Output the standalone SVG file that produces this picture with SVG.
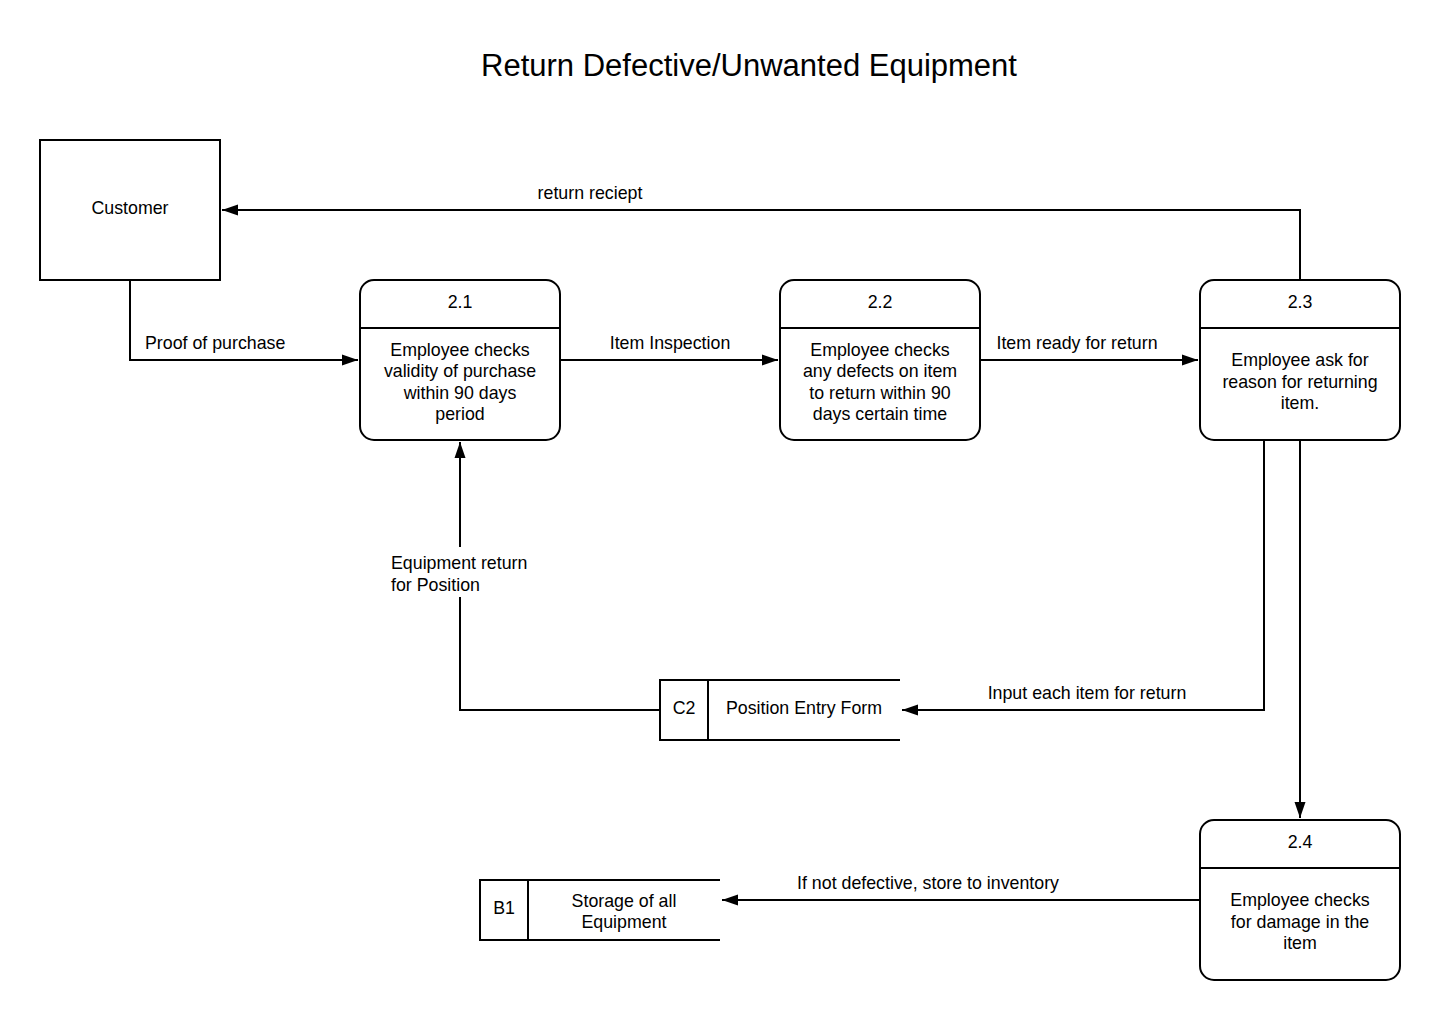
<svg xmlns="http://www.w3.org/2000/svg" width="1440" height="1020" viewBox="0 0 1440 1020">
<style>
text{font-family:"Liberation Sans",Arial,sans-serif;font-size:17.8px;fill:#000}
.t{text-anchor:middle}
.title{font-size:31px;text-anchor:middle}
.box{fill:#fff;stroke:#000;stroke-width:2}
.ln{fill:none;stroke:#000;stroke-width:2}
.c{fill:none;stroke:#000;stroke-width:2;marker-end:url(#ah)}
</style>
<defs>
<marker id="ah" markerUnits="userSpaceOnUse" markerWidth="18" markerHeight="14" refX="16" refY="7" orient="auto">
<path d="M0,1.5 L16,7 L0,12.5 z" fill="#000"/>
</marker>
</defs>
<rect width="1440" height="1020" fill="#fff"/>
<text class="title" x="749" y="76">Return Defective/Unwanted Equipment</text>

<g id="connectors">
<polyline class="c" points="130,280 130,360 358,360"/>
<text x="145" y="349">Proof of purchase</text>
<line class="c" x1="560" y1="360" x2="778" y2="360"/>
<text class="t" x="670" y="349">Item Inspection</text>
<line class="c" x1="980" y1="360" x2="1198" y2="360"/>
<text class="t" x="1077" y="349">Item ready for return</text>
<polyline class="c" points="1300,280 1300,210 222,210"/>
<text class="t" x="590" y="199">return reciept</text>
<polyline class="c" points="1264,440 1264,710 902,710"/>
<text class="t" x="1087" y="699">Input each item for return</text>
<line class="c" x1="1300" y1="440" x2="1300" y2="818"/>
<polyline class="c" points="660,710 460,710 460,442"/>
<rect x="388" y="547" width="146" height="50" fill="#fff"/>
<text x="391" y="569">Equipment return</text>
<text x="391" y="590.5">for Position</text>
<line class="c" x1="1200" y1="900" x2="722" y2="900"/>
<text class="t" x="928" y="889">If not defective, store to inventory</text>
</g>

<g id="customer">
<rect class="box" x="40" y="140" width="180" height="140"/>
<text class="t" x="130" y="214">Customer</text>
</g>

<g id="p21">
<rect class="box" x="360" y="280" width="200" height="160" rx="14"/>
<line class="ln" x1="360" y1="328" x2="560" y2="328"/>
<text class="t" x="460" y="308">2.1</text>
<text class="t" x="460" y="355.5">Employee checks</text>
<text class="t" x="460" y="377">validity of purchase</text>
<text class="t" x="460" y="398.5">within 90 days</text>
<text class="t" x="460" y="420">period</text>
</g>

<g id="p22">
<rect class="box" x="780" y="280" width="200" height="160" rx="14"/>
<line class="ln" x1="780" y1="328" x2="980" y2="328"/>
<text class="t" x="880" y="308">2.2</text>
<text class="t" x="880" y="355.5">Employee checks</text>
<text class="t" x="880" y="377">any defects on item</text>
<text class="t" x="880" y="398.5">to return within 90</text>
<text class="t" x="880" y="420">days certain time</text>
</g>

<g id="p23">
<rect class="box" x="1200" y="280" width="200" height="160" rx="14"/>
<line class="ln" x1="1200" y1="328" x2="1400" y2="328"/>
<text class="t" x="1300" y="308">2.3</text>
<text class="t" x="1300" y="366">Employee ask for</text>
<text class="t" x="1300" y="387.5">reason for returning</text>
<text class="t" x="1300" y="409">item.</text>
</g>

<g id="p24">
<rect class="box" x="1200" y="820" width="200" height="160" rx="14"/>
<line class="ln" x1="1200" y1="868" x2="1400" y2="868"/>
<text class="t" x="1300" y="848">2.4</text>
<text class="t" x="1300" y="906">Employee checks</text>
<text class="t" x="1300" y="927.5">for damage in the</text>
<text class="t" x="1300" y="949">item</text>
</g>

<g id="c2">
<path class="ln" d="M900,680 H660 V740 H900 M708,680 V740"/>
<text class="t" x="684" y="714">C2</text>
<text class="t" x="804" y="714">Position Entry Form</text>
</g>

<g id="b1">
<path class="ln" d="M720,880 H480 V940 H720 M528,880 V940"/>
<text class="t" x="504" y="914">B1</text>
<text class="t" x="624" y="906.5">Storage of all</text>
<text class="t" x="624" y="928">Equipment</text>
</g>
</svg>
